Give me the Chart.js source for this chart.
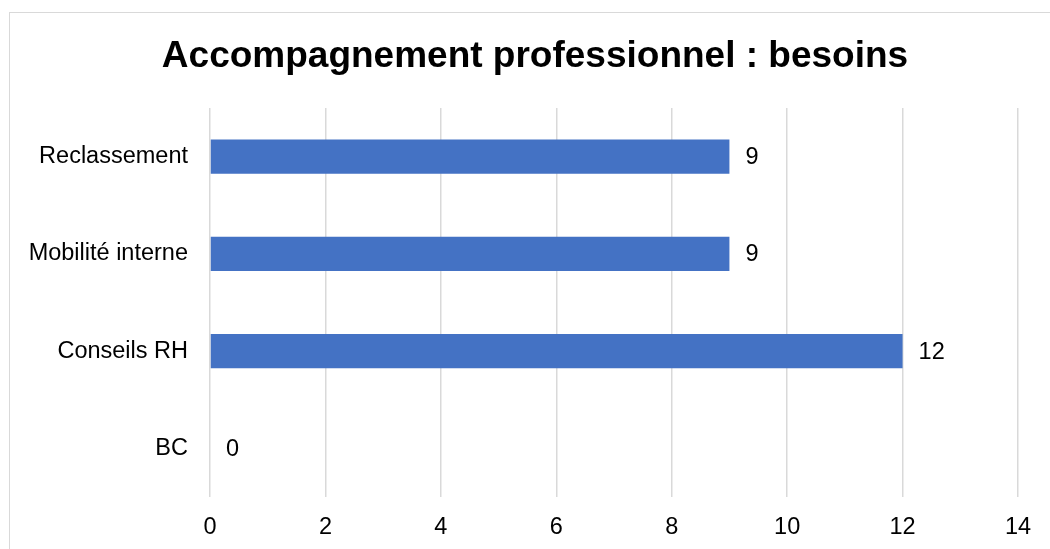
<!DOCTYPE html>
<html lang="fr">
<head>
<meta charset="utf-8">
<title>Accompagnement professionnel : besoins</title>
<script src="https://cdn.jsdelivr.net/npm/chart.js@4/dist/chart.umd.min.js"></script>
<style>
  html, body { margin: 0; padding: 0; background: #fff; }
  #wrap { position: relative; width: 1050px; height: 549px; overflow: hidden; }
  #frame {
    position: absolute; left: 9px; top: 12px; right: -10px; bottom: -10px;
    border-left: 1px solid #d9d9d9; border-top: 1px solid #d9d9d9;
    pointer-events: none;
  }
  canvas { display: block; }
</style>
</head>
<body>
<div id="wrap">
  <canvas id="chart" width="1050" height="549"></canvas>
  <div id="frame"></div>
</div>
<script>
// ── Data ─────────────────────────────────────────────
const categories = ['Reclassement', 'Mobilité interne', 'Conseils RH', 'BC'];
const besoins    = [9, 9, 12, 0];
const xMin = 0, xMax = 14, xStep = 2;
const chartTitle = 'Accompagnement professionnel : besoins';

const FONT = "'Liberation Sans', Arial, sans-serif";

// title centred on the outer frame rather than the plot
const frameTitle = {
  id: 'frameTitle',
  afterDraw(chart) {
    const { ctx } = chart;
    ctx.save();
    ctx.font = `bold 37px ${FONT}`;
    ctx.fillStyle = '#000';
    ctx.textAlign = 'center';
    ctx.textBaseline = 'alphabetic';
    ctx.fillText(chartTitle, 535, 67);
    ctx.restore();
  }
};

// value labels drawn just right of each bar end
const valueLabels = {
  id: 'valueLabels',
  afterDatasetsDraw(chart) {
    const { ctx } = chart;
    const meta = chart.getDatasetMeta(0);
    ctx.save();
    ctx.font = `23.5px ${FONT}`;
    ctx.fillStyle = '#000';
    ctx.textAlign = 'left';
    ctx.textBaseline = 'middle';
    meta.data.forEach((bar, i) => {
      ctx.fillText(String(besoins[i]), bar.x + 16, bar.y + 1);
    });
    ctx.restore();
  }
};

new Chart(document.getElementById('chart'), {
  type: 'bar',
  data: {
    labels: categories,
    datasets: [{
      data: besoins,
      backgroundColor: '#4472c4',
      borderWidth: 0,
      barPercentage: 0.35,
      categoryPercentage: 1,
    }]
  },
  options: {
    indexAxis: 'y',
    responsive: false,
    animation: false,
    layout: { padding: { top: 108, right: 32, bottom: 0, left: 0 } },
    plugins: {
      legend: { display: false },
      tooltip: { enabled: false },
      title: { display: false },
    },
    scales: {
      x: {
        min: xMin,
        max: xMax,
        ticks: { stepSize: xStep, color: '#000', font: { family: FONT, size: 23.5 }, padding: 16 },
        grid: { color: '#d9d9d9', lineWidth: 1.5, drawTicks: false },
        border: { display: false },
        afterFit: s => { s.height = 52; },
      },
      y: {
        ticks: { color: '#000', font: { family: FONT, size: 23.5 }, padding: 22 },
        grid: { display: false, drawTicks: false },
        border: { display: false },
        afterFit: s => { s.width = 210; },
      },
    },
  },
  plugins: [valueLabels, frameTitle],
});
</script>
</body>
</html>
